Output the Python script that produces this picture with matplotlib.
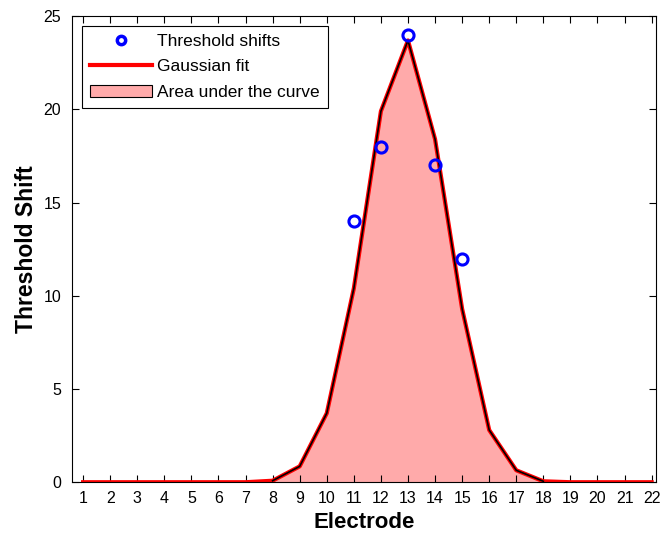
import numpy as np
import matplotlib.pyplot as plt

# Daten
electrodes = np.arange(1, 23)
gauss_fit = [0, 0, 0, 0, 0, 0, 0, 0.08, 0.85, 3.7, 10.4, 19.9, 23.7,
             18.4, 9.3, 2.8, 0.64, 0.05, 0, 0, 0, 0]
meas_x = [11, 12, 13, 14, 15]
meas_y = [14, 18, 24, 17, 12]

plt.rcParams['font.family'] = ['Liberation Sans', 'DejaVu Sans']

fig = plt.figure(figsize=(6.63, 5.40), dpi=100)
ax = fig.add_axes([0.109, 0.107, 0.880, 0.863])

fit = np.array(gauss_fit)
ax.fill_between(electrodes, fit, 0, color='#ffaaaa', lw=0, zorder=1)
ax.plot(electrodes, fit, color='red', lw=3, zorder=2)
ax.plot(electrodes, np.ma.masked_where(fit <= 0, fit), color='black', lw=1.2, zorder=3)
ax.plot(meas_x, meas_y, 'o', mfc='none', mec='blue', mew=2.2, ms=8, zorder=4)

# Legende
h_pts, = ax.plot([], [], 'o', mfc='none', mec='blue', mew=2.5, ms=6)
h_line, = ax.plot([], [], color='red', lw=3)
h_area = plt.Rectangle((0, 0), 1, 1, fc='#ffaaaa', ec='black', lw=0.8)
leg = ax.legend([h_pts, h_line, h_area],
                ['Threshold shifts', 'Gaussian fit', 'Area under the curve'],
                loc='upper left', fontsize=12.5, fancybox=False, framealpha=1,
                edgecolor='black', borderaxespad=0.55, handlelength=3.6,
                labelspacing=0.6, borderpad=0.45, handletextpad=0.3)
leg.get_frame().set_linewidth(0.8)

ax.set_xlim(0.6, 22.15)
ax.set_ylim(0, 25)
ax.set_xticks(electrodes)
ax.set_yticks([0, 5, 10, 15, 20, 25])
ax.tick_params(direction='in', top=True, right=True, labelsize=11.5, length=5)
ax.tick_params(axis='y', pad=8)
ax.tick_params(axis='x', pad=6)
for s in ax.spines.values():
    s.set_linewidth(0.8)
ax.set_xlabel('Electrode', fontsize=16, fontweight='bold', labelpad=5)
ax.set_ylabel('Threshold Shift', fontsize=16.5, fontweight='bold', labelpad=4)

fig.savefig('out.png', dpi=100)
